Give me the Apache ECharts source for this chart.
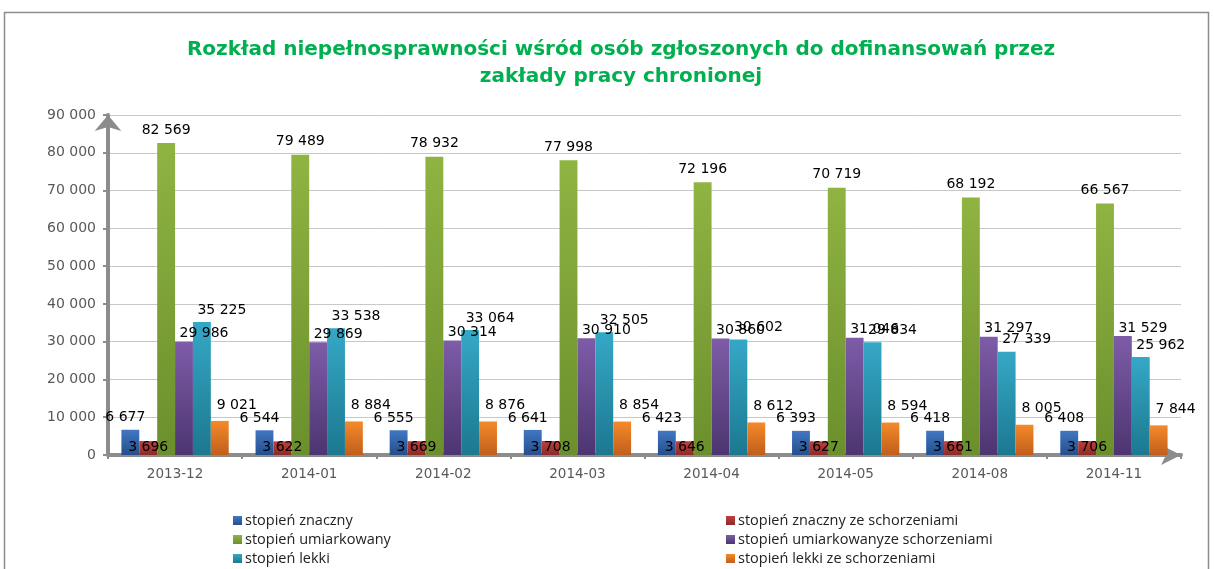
<!DOCTYPE html>
<html>
<head>
<meta charset="utf-8">
<script src="https://cdn.jsdelivr.net/npm/echarts@6/dist/echarts.min.js"></script>
<style>
  html, body { margin: 0; padding: 0; background: #fff; }
  #chart { width: 1214px; height: 569px; }
</style>
</head>
<body>
<div id="chart"></div>
<script>
var categories = ['2013-12', '2014-01', '2014-02', '2014-03', '2014-04', '2014-05', '2014-08', '2014-11'];
var seriesNames = [
  'stopień znaczny',
  'stopień znaczny ze schorzeniami',
  'stopień umiarkowany',
  'stopień umiarkowanyze schorzeniami',
  'stopień lekki',
  'stopień lekki ze schorzeniami'
];
var znaczny = [6677, 6544, 6555, 6641, 6423, 6393, 6418, 6408];
var znacznySchorz = [3696, 3622, 3669, 3708, 3646, 3627, 3661, 3706];
var umiarkowany = [82569, 79489, 78932, 77998, 72196, 70719, 68192, 66567];
var umiarkowanySchorz = [29986, 29869, 30314, 30910, 30860, 31046, 31297, 31529];
var lekki = [35225, 33538, 33064, 32505, 30602, 29834, 27339, 25962];
var lekkiSchorz = [9021, 8884, 8876, 8854, 8612, 8594, 8005, 7844];

// separator tysięcy spacją
function fmt(v) {
  return String(v).replace(/\B(?=(\d{3})+(?!\d))/g, ' ');
}

function grad(top, bottom) {
  return {
    type: 'linear', x: 0, y: 0, x2: 0, y2: 1,
    colorStops: [{ offset: 0, color: top }, { offset: 1, color: bottom }]
  };
}

var myChart = echarts.init(document.getElementById('chart'));

var styles = [
  { top: '#4177c2', bottom: '#254e8c', offset: [-5, 0], dist: 5 },
  { top: '#c0403c', bottom: '#8c2a28', offset: [0, 19], dist: 6 },
  { top: '#8fb442', bottom: '#6b8f2c', offset: [0, 0], dist: 6 },
  { top: '#7e5ca8', bottom: '#4c3570', offset: [20, 0], dist: 1 },
  { top: '#35a8c6', bottom: '#1c7890', offset: [20, 0], dist: 5 },
  { top: '#f58a2a', bottom: '#c05e1c', offset: [17, 0], dist: 9 }
];
var values = [znaczny, znacznySchorz, umiarkowany, umiarkowanySchorz, lekki, lekkiSchorz];

var series = values.map(function (arr, i) {
  return {
    name: seriesNames[i],
    type: 'bar',
    data: arr,
    barGap: '0%',
    barCategoryGap: '20%',
    itemStyle: { color: grad(styles[i].top, styles[i].bottom) },
    label: {
      show: true,
      position: 'top',
      offset: styles[i].offset,
      distance: styles[i].dist,
      color: '#000',
      fontFamily: 'DejaVu Sans',
      fontSize: 14,
      formatter: function (p) { return fmt(p.value); }
    }
  };
});

// legenda: 2 kolumny x 3 wiersze
var legendPos = [
  [228, 508], [721, 508],
  [228, 527], [721, 527],
  [228, 546], [721, 546]
];
var legends = seriesNames.map(function (n, i) {
  return {
    data: [n],
    left: legendPos[i][0],
    top: legendPos[i][1],
    itemWidth: 9,
    itemHeight: 9,
    itemGap: 4,
    icon: 'rect',
    textStyle: { fontFamily: 'Open Sans', fontSize: 14.5, color: '#222', padding: [0, 0, 0, -2] }
  };
});

var option = {
  animation: false,
  backgroundColor: '#fff',
  title: {
    text: 'Rozkład niepełnosprawności wśród osób zgłoszonych do dofinansowań przez\nzakłady pracy chronionej',
    left: 616,
    textAlign: 'center',
    top: 31,
    textStyle: {
      color: '#00b050',
      fontFamily: 'DejaVu Sans',
      fontWeight: 'bold',
      fontSize: 20,
      lineHeight: 27,
      align: 'center'
    }
  },
  graphic: [{
    type: 'rect',
    shape: { x: 4.5, y: 12.5, width: 1204, height: 570 },
    style: { fill: 'none', stroke: '#8c8c8c', lineWidth: 1.5 },
    silent: true
  }],
  legend: legends,
  grid: {
    left: 108,
    right: 33,
    top: 115,
    bottom: 114,
    containLabel: false
  },
  xAxis: {
    type: 'category',
    data: categories,
    axisLine: {
      show: true,
      symbol: ['none', 'arrow'],
      symbolSize: [15, 20],
      lineStyle: { color: '#8c8c8c', width: 4 }
    },
    axisTick: { show: true, length: 4, lineStyle: { color: '#8c8c8c', width: 2 } },
    axisLabel: {
      color: '#595959',
      fontFamily: 'DejaVu Sans',
      fontSize: 13.5,
      margin: 12
    }
  },
  yAxis: {
    type: 'value',
    min: 0,
    max: 90000,
    interval: 10000,
    axisLine: {
      show: true,
      symbol: ['none', 'arrow'],
      symbolSize: [20, 16],
      lineStyle: { color: '#8c8c8c', width: 4 }
    },
    axisTick: { show: true, length: 5, lineStyle: { color: '#8c8c8c', width: 2 } },
    axisLabel: {
      color: '#595959',
      fontFamily: 'DejaVu Sans',
      fontSize: 14,
      margin: 12,
      formatter: function (v) { return fmt(v); }
    },
    splitLine: {
      show: true,
      lineStyle: { color: '#c8c8c8', width: 1 }
    }
  },
  series: series
};

option && myChart.setOption(option);
</script>
</body>
</html>
